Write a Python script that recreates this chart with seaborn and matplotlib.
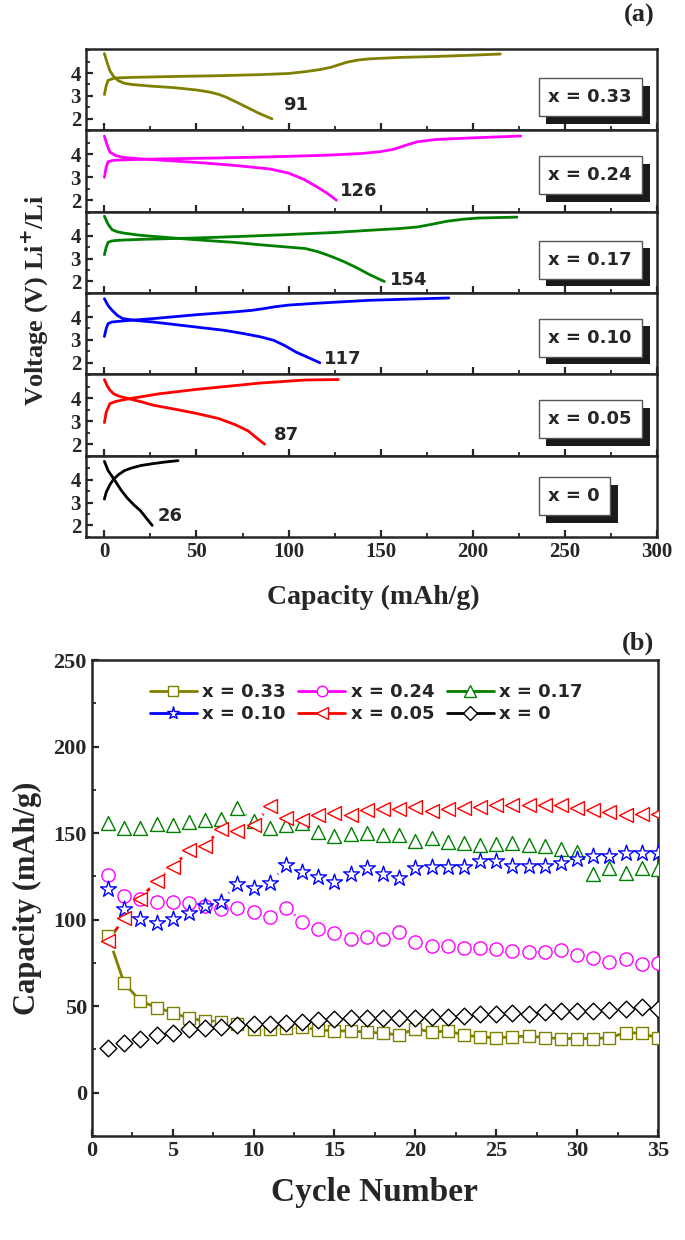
import numpy as np
import pandas as pd
import matplotlib
matplotlib.use("Agg")
import matplotlib.pyplot as plt
import matplotlib.patheffects as pe
from matplotlib.lines import Line2D
from matplotlib.ticker import MultipleLocator
import seaborn as sns

# ---- panel (a): charge / discharge curves ----
labels = ["x = 0.33", "x = 0.24", "x = 0.17", "x = 0.10", "x = 0.05", "x = 0"]
colors = ["#808000", "#ff00ff", "#008000", "#0000ff", "#ff0000", "#000000"]
end_caps = ["91", "126", "154", "117", "87", "26"]

chg_cap_033 = [0, 1, 2, 5.4, 15, 38, 60, 85, 100, 109, 117, 123, 128, 132, 138, 144, 160, 179, 200, 215]
chg_v_033 = [3.06, 3.45, 3.68, 3.78, 3.81, 3.85, 3.88, 3.93, 3.98, 4.06, 4.15, 4.25, 4.38, 4.48, 4.57, 4.62, 4.68, 4.72, 4.78, 4.83]
dis_cap_033 = [0, 1.5, 3, 5, 7.7, 11, 15, 25, 38, 50, 57, 62, 66, 72, 78, 84, 91]
dis_v_033 = [4.85, 4.45, 4.1, 3.85, 3.66, 3.55, 3.5, 3.43, 3.36, 3.26, 3.17, 3.07, 2.95, 2.72, 2.48, 2.24, 2.0]

chg_cap_024 = [0, 1, 2, 5, 10, 30, 60, 90, 120, 140, 150, 157, 163, 170, 180, 200, 226]
chg_v_024 = [3.0, 3.45, 3.68, 3.74, 3.76, 3.8, 3.84, 3.89, 3.96, 4.04, 4.12, 4.22, 4.38, 4.55, 4.65, 4.72, 4.8]
dis_cap_024 = [0, 1.5, 3, 6, 10, 20, 38, 55, 73, 90, 100, 108, 115, 121, 126]
dis_v_024 = [4.8, 4.4, 4.1, 3.95, 3.87, 3.8, 3.71, 3.62, 3.5, 3.36, 3.18, 2.92, 2.6, 2.3, 2.0]

chg_cap_017 = [0, 1, 2, 4, 7.7, 20, 50, 75, 97, 125, 149, 160, 170, 178, 186, 195, 203, 224]
chg_v_017 = [3.17, 3.5, 3.71, 3.77, 3.8, 3.84, 3.9, 3.97, 4.04, 4.14, 4.26, 4.31, 4.38, 4.5, 4.63, 4.72, 4.77, 4.81]
dis_cap_017 = [0, 2, 4.2, 7, 10, 18, 26.5, 50, 70, 85, 100, 109, 116, 123, 130, 137, 144, 152]
dis_v_017 = [4.85, 4.5, 4.26, 4.17, 4.12, 4.03, 3.97, 3.82, 3.71, 3.6, 3.5, 3.44, 3.3, 3.1, 2.87, 2.6, 2.3, 2.0]

chg_cap_010 = [0, 1, 2, 4, 7.7, 15, 26.5, 50, 70, 80, 86, 92, 100, 115, 144, 165, 187]
chg_v_010 = [3.15, 3.5, 3.71, 3.78, 3.81, 3.86, 3.93, 4.1, 4.22, 4.29, 4.36, 4.44, 4.52, 4.6, 4.73, 4.78, 4.83]
dis_cap_010 = [0, 2, 4.2, 7, 10, 18, 26.5, 50, 65, 76, 85, 92, 98, 104, 111, 117]
dis_v_010 = [4.8, 4.5, 4.29, 4.07, 3.93, 3.84, 3.78, 3.56, 3.42, 3.27, 3.13, 2.98, 2.75, 2.47, 2.22, 2.0]

chg_cap_005 = [0, 1, 3, 6, 10, 14.8, 30, 50, 70, 85, 100, 109, 127]
chg_v_005 = [2.94, 3.4, 3.77, 3.86, 3.93, 4.0, 4.2, 4.39, 4.55, 4.67, 4.75, 4.8, 4.82]
dis_cap_005 = [0, 1.5, 3, 5, 7.7, 12.4, 20, 26.5, 40, 50, 62, 71, 78, 83, 87]
dis_v_005 = [4.82, 4.55, 4.36, 4.2, 4.1, 4.0, 3.85, 3.7, 3.5, 3.34, 3.12, 2.85, 2.58, 2.25, 2.0]

chg_cap_000 = [0, 1, 3, 5, 7.7, 11, 14.8, 20, 26.5, 33, 40]
chg_v_000 = [3.15, 3.45, 3.78, 4.02, 4.22, 4.4, 4.51, 4.62, 4.7, 4.77, 4.83]
dis_cap_000 = [0, 2, 5.4, 9, 12.4, 16, 19.5, 23, 26]
dis_v_000 = [4.8, 4.4, 4.0, 3.55, 3.2, 2.9, 2.65, 2.3, 2.0]

charge = [(chg_cap_033, chg_v_033), (chg_cap_024, chg_v_024), (chg_cap_017, chg_v_017),
          (chg_cap_010, chg_v_010), (chg_cap_005, chg_v_005), (chg_cap_000, chg_v_000)]
discharge = [(dis_cap_033, dis_v_033), (dis_cap_024, dis_v_024), (dis_cap_017, dis_v_017),
             (dis_cap_010, dis_v_010), (dis_cap_005, dis_v_005), (dis_cap_000, dis_v_000)]

# label anchor (capacity, voltage) next to each discharge end
cap_label_x = [97, 128, 155, 119, 92, 29]
cap_label_y = [2.62, 2.42, 2.05, 2.18, 2.42, 2.4]
box_y = [0.41, 0.45, 0.41, 0.45, 0.45, 0.5]

# ---- panel (b): cycling ----
cycles = list(range(1, 36))
cap_033 = [90.7, 63.3, 53, 49.2, 46.3, 43, 41.5, 41, 39.6, 37, 37, 37.6, 38, 36.3, 35.7, 35.7, 35, 34.4,
           33.4, 37, 35, 35.7, 33.4, 32.2, 31.8, 32.2, 32.8, 31.8, 31.3, 31.3, 31.3, 31.8, 34.7, 34.4, 31.5]
cap_024 = [125.8, 113.9, 112, 110, 110, 109.6, 107.7, 106, 106.7, 104.6, 101.3, 107, 98.8, 94.6, 92.3,
           88.8, 90, 89, 93, 87.2, 85, 85, 83.4, 83.4, 83, 82, 81.4, 81.4, 82.4, 79.5, 78, 75.3, 77.2, 74.3, 74.9]
cap_017 = [156, 152.9, 152.9, 155.4, 154.8, 156.3, 157.3, 157.9, 164.4, 157, 152.9, 154.8, 156, 150.5,
           148.2, 149.6, 150, 149, 149, 145.7, 147, 145, 144.2, 143.2, 143.8, 144.2, 143.2, 142.8, 140.9,
           139, 126.4, 129.7, 127, 129.7, 129.3]
cap_010 = [117.7, 106, 100.4, 97.9, 100.4, 103.8, 108, 110.4, 120.6, 118, 121, 131.6, 127.8, 124.5, 122,
           126.4, 130, 126.4, 124, 129.7, 130.3, 130.7, 130.7, 133.6, 134, 131.2, 131.2, 131.2, 132.8, 135,
           136.6, 136.6, 138.4, 138.4, 138.4]
cap_005 = [87.8, 100.7, 112, 122.6, 130.3, 140, 142.8, 152.5, 151.5, 154.4, 165.6, 158.6, 157.3, 160.6,
           161.7, 160.2, 163.1, 163.7, 164, 165, 163, 163.7, 164.4, 165, 166, 166.4, 166.4, 166.4, 166,
           164.4, 163.1, 162.1, 160.6, 161.2, 161.2]
cap_000 = [26, 28.6, 30.9, 33.2, 34.7, 36.7, 37.6, 38, 39, 39.6, 39.6, 40.1, 40.9, 42, 42.5, 43, 43, 43.4,
           43.4, 43.4, 44, 44, 44.4, 45.4, 45.4, 46.3, 45.7, 46.7, 47.3, 47.3, 47.3, 47.9, 48.6, 49.8, 48.6]
series_b = [cap_033, cap_024, cap_017, cap_010, cap_005, cap_000]
markers = ["s", "o", "^", "*", "<", "D"]
msizes = [9, 9.5, 10, 12, 10, 8.5]

sns.set_theme(style="ticks")
plt.rcParams.update({
    "font.family": ["Liberation Serif", "DejaVu Serif"],
    "font.weight": "bold",
    "axes.labelweight": "bold",
    "axes.linewidth": 1.8,
    "xtick.direction": "in", "ytick.direction": "in",
    "xtick.major.width": 1.6, "ytick.major.width": 1.6,
    "xtick.minor.width": 1.3, "ytick.minor.width": 1.3,
    "xtick.major.size": 5, "ytick.major.size": 5,
    "xtick.minor.size": 3, "ytick.minor.size": 3,
    "xtick.labelsize": 15, "ytick.labelsize": 15,
})
sans = "DejaVu Sans"

fig = plt.figure(figsize=(6.85, 12.4), dpi=100)
gs = fig.add_gridspec(6, 1, left=0.1255, right=0.959, top=0.9605, bottom=0.567, hspace=0)
axes_a = [fig.add_subplot(gs[i, 0]) for i in range(6)]

for i, ax in enumerate(axes_a):
    c = colors[i]
    sns.lineplot(x=charge[i][0], y=charge[i][1], ax=ax, color=c, linewidth=2, sort=False)
    sns.lineplot(x=discharge[i][0], y=discharge[i][1], ax=ax, color=c, linewidth=2, sort=False)
    ax.set_xlim(-10, 300)
    ax.set_ylim(1.5, 5.05)
    ax.set_yticks([2, 3, 4])
    ax.yaxis.set_minor_locator(MultipleLocator(0.5))
    ax.xaxis.set_major_locator(MultipleLocator(50))
    ax.xaxis.set_minor_locator(MultipleLocator(25))
    ax.tick_params(top=False, right=False, which="both")
    if i < 5:
        ax.tick_params(labelbottom=False)
    ax.set_xlabel("")
    ax.set_ylabel("")
    ax.text(cap_label_x[i], cap_label_y[i], end_caps[i], ha="left", va="center",
            fontsize=13, fontweight="bold", family=sans)
    t = ax.text(0.81, box_y[i], labels[i], transform=ax.transAxes, ha="left", va="center",
                fontsize=13, fontweight="bold", family=sans,
                bbox=dict(boxstyle="square,pad=0.55", fc="white", ec="#555555", lw=1))
    t.get_bbox_patch().set_path_effects([pe.withSimplePatchShadow(offset=(5.5, -5.5), shadow_rgbFace="k", alpha=1)])

fig.text(0.051, 1 - 300 / 1240, "Voltage (V) Li$^{\\mathbf{+}}$/Li", rotation=90, ha="center", va="center",
         fontsize=19, fontweight="bold")
fig.text(0.545, 1 - 597 / 1240, "Capacity (mAh/g)", ha="center", va="center", fontsize=20, fontweight="bold")
fig.text(0.955, 1 - 15 / 1240, "(a)", ha="right", va="center", fontsize=19, fontweight="bold")

# ---- panel (b) ----
axb = fig.add_axes([0.134, 0.0839, 0.9606 - 0.134, 0.4677 - 0.0839])
# connecting lines
for vals, c in zip(series_b, colors):
    sns.lineplot(x=cycles, y=vals, ax=axb, color=c, linewidth=2, zorder=1)
# white gaps around symbols (except the olive series, whose line runs through)
for vals, ms in zip(series_b[1:], msizes[1:]):
    sns.scatterplot(x=cycles, y=vals, ax=axb, color="white", s=(ms + 5) ** 2, linewidth=0, zorder=2)
for vals, c, m, ms in zip(series_b, colors, markers, msizes):
    sns.scatterplot(x=cycles, y=vals, ax=axb, marker=m, s=ms ** 2, facecolor="white", edgecolor=c,
                    linewidth=1, zorder=3)
axb.set_xlim(0, 35)
axb.set_ylim(-25, 250)
axb.xaxis.set_major_locator(MultipleLocator(5))
axb.xaxis.set_minor_locator(MultipleLocator(2.5))
axb.yaxis.set_major_locator(MultipleLocator(50))
axb.yaxis.set_minor_locator(MultipleLocator(25))
axb.tick_params(top=False, right=False, which="both")
axb.tick_params(axis="both", labelsize=16)
axb.set_xlabel("Cycle Number", fontsize=24, fontweight="bold", labelpad=12)
axb.set_ylabel("Capacity (mAh/g)", fontsize=22, fontweight="bold", labelpad=8)

handles = [Line2D([], [], color=c, marker=m, markersize=ms * 0.8, markerfacecolor="white",
                  markeredgecolor=c, markeredgewidth=1, linewidth=2)
           for c, m, ms in zip(colors, markers, msizes)]
order = [0, 3, 1, 4, 2, 5]  # legend fills column-wise
axb.legend([handles[k] for k in order], [labels[k] for k in order], ncol=3, frameon=False,
           loc="upper center", bbox_to_anchor=(0.485, 0.985),
           prop={"family": sans, "weight": "bold", "size": 13},
           handlelength=2.6, handletextpad=0.3, columnspacing=0.7, labelspacing=0.2)
fig.text(0.955, 1 - 643 / 1240, "(b)", ha="right", va="center", fontsize=19, fontweight="bold")

fig.savefig("out.png", dpi=100)
plt.close(fig)
